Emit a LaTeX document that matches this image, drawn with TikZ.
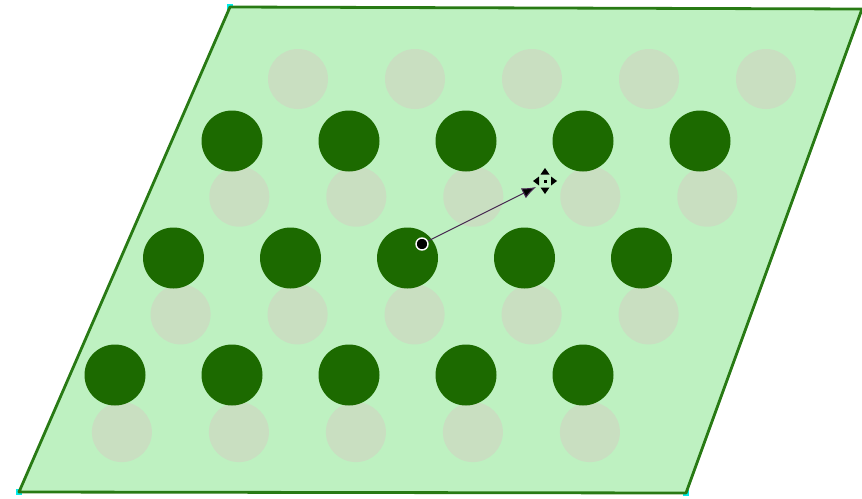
\documentclass[tikz,border=0pt]{standalone}
\usepackage{xcolor}
\usepackage{tikz}
\usetikzlibrary{arrows.meta,calc}

\definecolor{sheetfill}{RGB}{190,241,193}
\definecolor{sheetedge}{RGB}{40,122,20}
\definecolor{darkdot}{RGB}{28,106,0}
\definecolor{paledot}{RGB}{201,223,193}
\definecolor{handle}{RGB}{0,235,235}
\definecolor{vecline}{RGB}{70,40,80}

\begin{document}
\begin{tikzpicture}[x=1pt,y=-1pt,
    darkatom/.style={circle,fill=darkdot,minimum size=61pt,inner sep=0pt},
    paleatom/.style={circle,fill=paledot,minimum size=60pt,inner sep=0pt},
    pin/.style={circle,fill=black,draw=white,line width=1.4pt,minimum size=12pt,inner sep=0pt}]
  \useasboundingbox (0,0) rectangle (862,498);
  % sheet
  \coordinate (sw) at (19,492);
  \coordinate (se) at (686,493);
  \coordinate (ne) at (862,9);
  \coordinate (nw) at (230,7);
  \foreach \c in {sw,se,nw} \fill[handle] ($(\c)+(-3,-3)$) rectangle ($(\c)+(3,3)$);
  \filldraw[fill=sheetfill,draw=sheetedge,line width=2.8pt,line join=round] (sw)--(se)--(ne)--(nw)--cycle;
  % lower layer
  \foreach \j in {0,...,3}
    \foreach \i in {0,...,4}
      \node[paleatom] (l-\i-\j) at ({298-58.7*\j+117*\i},{79+117.7*\j}) {};
  % upper layer
  \foreach \j in {0,...,2}
    \foreach \i in {0,...,4}
      \node[darkatom] (d-\i-\j) at ({232-58.5*\j+117*\i},{141+117*\j}) {};
  % shift vector
  \node[pin] (start) at (422,244) {};
  \coordinate (tip) at (536,187);
  \draw[vecline,line width=1pt,-{Latex[length=14pt,width=11pt,fill=black]}] (start)--(tip);
  % move cursor
  \coordinate (mv) at (545,181);
  \fill (mv) ++(0,-13)--++(-4.5,6.5)--++(9,0)--cycle;
  \fill (mv) ++(0,13)--++(-4.5,-6.5)--++(9,0)--cycle;
  \fill (mv) ++(-12,0)--++(6,-4.5)--++(0,9)--cycle;
  \fill (mv) ++(12,0)--++(-6,-4.5)--++(0,9)--cycle;
  \fill ($(mv)+(-1.5,-1.5)$) rectangle ($(mv)+(1.5,1.5)$);
\end{tikzpicture}
\end{document}
